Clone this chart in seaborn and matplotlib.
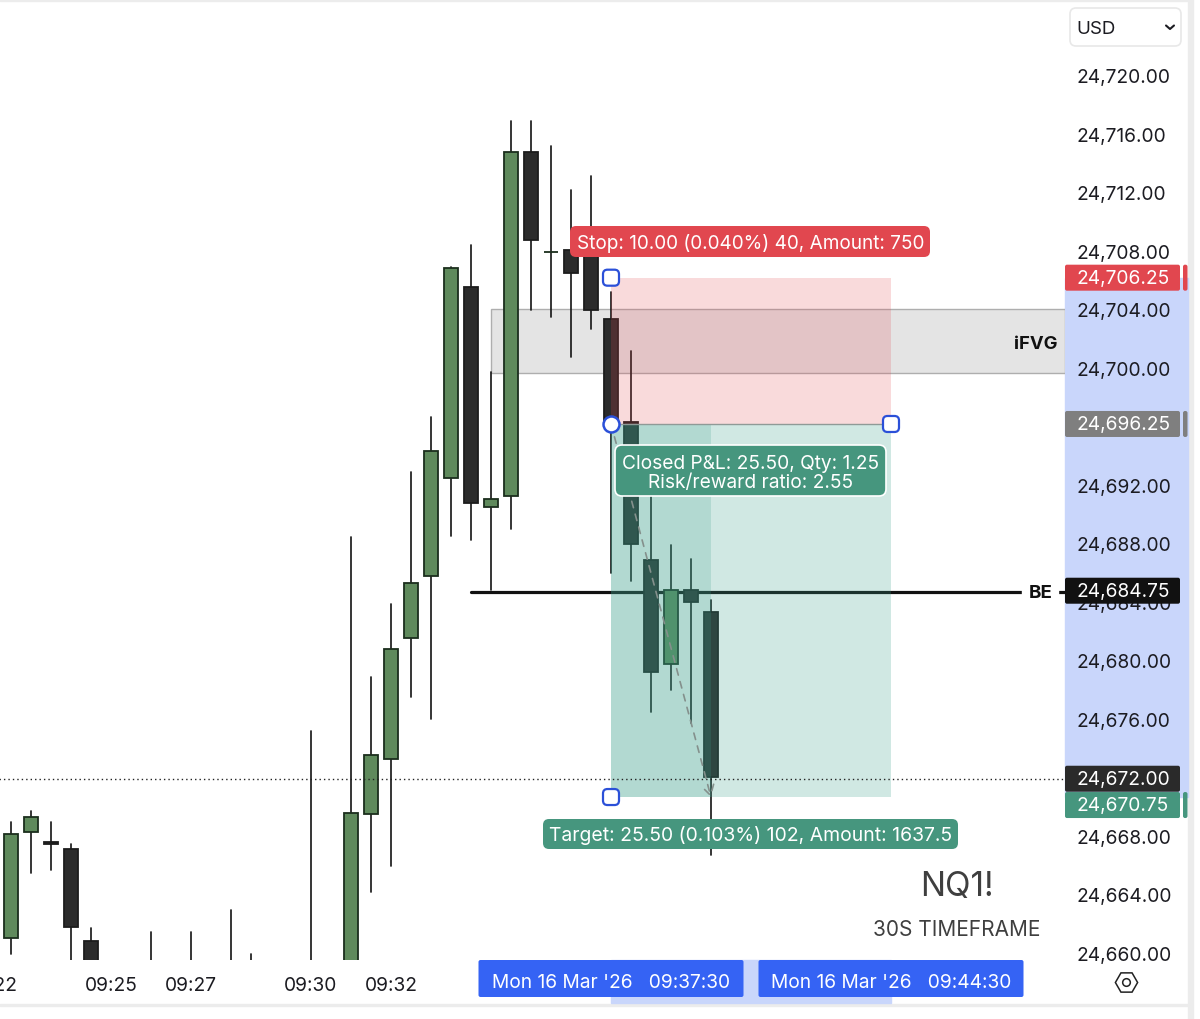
import matplotlib
matplotlib.use('Agg')
import matplotlib.pyplot as plt
import matplotlib.transforms as mtransforms
from matplotlib.patches import FancyBboxPatch, Rectangle
import pandas as pd
import seaborn as sns

# minutes after 09:00, one bar every 30s
bar_times = [22.5, 23.0, 23.5, 24.0, 24.5, 26.0, 27.0, 28.0, 28.5, 30.0, 31.0, 31.5, 32.0,
             32.5, 33.0, 33.5, 34.0, 34.5, 35.0, 35.5, 36.0, 36.5, 37.0, 37.5, 38.0, 38.5,
             39.0, 39.5, 40.0]
# bars below the visible range have estimated bodies and lows
opens = [24661.12, 24668.36, 24667.67, 24667.2, 24660.93, 24655.1, 24655.1, 24656.1, 24657.1, 24650.1,
         24650.1, 24669.59, 24673.35, 24681.62, 24685.86, 24692.56, 24705.61, 24690.58, 24691.33, 24714.84,
         24708.0, 24708.14, 24708.0, 24703.42, 24696.38, 24686.92, 24679.84, 24684.9, 24683.4]
highs = [24669.04, 24669.8, 24669.04, 24667.54, 24661.8, 24661.52, 24661.52, 24663.03, 24660.02, 24675.26,
         24688.52, 24678.95, 24683.94, 24692.97, 24696.73, 24706.98, 24708.48, 24699.8, 24716.96, 24716.96,
         24715.25, 24712.24, 24713.2, 24705.27, 24701.24, 24694.13, 24687.98, 24687.02, 24684.22]
lows = [24660.02, 24665.56, 24665.76, 24655.1, 24645.1, 24650.1, 24650.1, 24652.1, 24654.1, 24645.1,
        24645.1, 24664.26, 24666.04, 24677.59, 24676.08, 24688.59, 24688.32, 24684.9, 24689.07, 24704.04,
        24703.56, 24700.83, 24702.74, 24686.06, 24685.52, 24676.56, 24678.07, 24675.81, 24666.79]
closes = [24668.22, 24669.38, 24667.54, 24661.87, 24652.1, 24652.1, 24652.1, 24654.1, 24655.1, 24648.1,
          24669.66, 24673.65, 24680.87, 24685.38, 24694.4, 24706.91, 24690.85, 24691.12, 24714.84, 24708.83,
          24708.0, 24706.54, 24704.04, 24696.52, 24688.05, 24679.3, 24684.9, 24684.08, 24672.12]

# 24,696 and 24,672 sit fully under the price tags, so they are left out
price_ticks = [24720, 24716, 24712, 24708, 24704, 24700, 24692, 24688, 24684, 24680,
               24676, 24668, 24664, 24660]
time_ticks = [22, 25, 27, 30, 32]

stop_price = 24706.25
entry_price = 24696.25
target_price = 24670.75
be_price = 24684.75
last_price = 24672.0
ifvg_top = 24704.1
ifvg_bottom = 24699.75
ifvg_start = 34.5
be_start = 34.0
entry_time = 37.5
closed_time = 40.0
end_time = 44.5

stop_text = 'Stop: 10.00 (0.040%) 40, Amount: 750'
closed_text = 'Closed P&L: 25.50, Qty: 1.25\nRisk/reward ratio: 2.55'
target_text = 'Target: 25.50 (0.103%) 102, Amount: 1637.5'
entry_stamp = "Mon 16 Mar '26   09:37:30"
end_stamp = "Mon 16 Mar '26   09:44:30"

GREEN = '#5f8a5c'
BLACK = '#2b2b2b'
EDGE_G = '#1b2e1d'
EDGE_B = '#1c1c1c'
TEAL = '#46967e'
TINT = '#3b9f8a'
RED = '#e1474f'
BLUE = '#3563f4'
PALE_BLUE = '#c9d6fb'
HANDLE = '#2b50d8'
INK = '#1c1c22'
FONT = 13.8

XLIM = (21.225, 48.85)
YLIM = (24659.61, 24725.30)

sns.set_theme(style='white')
plt.rcParams['font.family'] = ['Inter', 'DejaVu Sans']

fig = plt.figure(figsize=(12, 10.2), dpi=100, facecolor='white')
# axes start left of the figure so the 09:22 tick exists and its label gets cut by the edge
ax = fig.add_axes([-40 / 1200, 59 / 1020, 1105 / 1200, 961 / 1020], facecolor='white')
pix = mtransforms.Affine2D().scale(1, -1).translate(0, 1020)  # screen pixels, y down

candles = pd.DataFrame({'t': bar_times, 'o': opens, 'h': highs, 'l': lows, 'c': closes})
wicks = candles.melt(id_vars='t', value_vars=['h', 'l'], value_name='price')
sns.lineplot(data=wicks, x='t', y='price', units='t', estimator=None, color=EDGE_B,
             linewidth=1.25, legend=False, zorder=2, ax=ax)

up = candles['c'] >= candles['o']
for mask, fc, ec in [(up, GREEN, EDGE_G), (~up, BLACK, EDGE_B)]:
    part = candles[mask]
    ax.bar(part['t'], (part['c'] - part['o']).abs(), bottom=part[['o', 'c']].min(axis=1),
           width=0.35, color=fc, edgecolor=ec, linewidth=1.3, zorder=3)

be_line = pd.DataFrame({'t': [be_start, XLIM[1]], 'price': [be_price, be_price]})
sns.lineplot(data=be_line, x='t', y='price', color='#111111', linewidth=2.3, zorder=1.8, ax=ax)
ax.set_xlabel('')
ax.set_ylabel('')

ax.yaxis.tick_right()
ax.set_yticks(price_ticks, [f'{p:,.2f}' for p in price_ticks])
ax.set_xticks(time_ticks, [f'09:{m:02d}' for m in time_ticks])
ax.set_xlim(*XLIM)
ax.set_ylim(*YLIM)
ax.tick_params(axis='y', length=0, pad=8, labelsize=FONT, labelcolor=INK)
ax.tick_params(axis='x', length=0, pad=11.6, labelsize=FONT, labelcolor=INK)
for t in ax.get_yticklabels():
    t.set_transform(t.get_transform() + mtransforms.Affine2D().translate(0, 1.5))
sns.despine(ax=ax, left=True, right=True, top=True, bottom=True)


def price_y(p):
    return 1020 - ax.transData.transform((XLIM[0], p))[1]


def time_x(t):
    return ax.transData.transform((t, YLIM[0]))[0]


def tag(x0, x1, y0, y1, color, r=4, edge='none', lw=0, z=9):
    ax.add_patch(FancyBboxPatch((x0 + r, y0 + r), x1 - x0 - 2 * r, y1 - y0 - 2 * r,
                                boxstyle=f'round,pad={r},rounding_size={r}', transform=pix,
                                facecolor=color, edgecolor=edge, linewidth=lw, clip_on=False, zorder=z))


def label(x, y, s, color='white', size=FONT, ha='center', weight='normal', z=10, **kws):
    # va center sits a little high for this font
    ax.text(x, y + 1.5, s, color=color, fontsize=size, ha=ha, va='center', fontweight=weight,
            transform=pix, clip_on=False, zorder=z, **kws)


# window chrome
ax.add_patch(Rectangle((1188, 0), 5, 1020, transform=pix, color='#ececec', clip_on=False, zorder=0.4))
ax.add_patch(Rectangle((0, 0), 1188, 2, transform=pix, color='#ececec', clip_on=False, zorder=0.4))
ax.add_patch(Rectangle((0, 1004.5), 1188, 2, transform=pix, color='#ececec', clip_on=False, zorder=0.4))

# selected range on both axes
axis_band = mtransforms.blended_transform_factory(pix, ax.transData)
ax.add_patch(Rectangle((1065, target_price), 123, stop_price - target_price, transform=axis_band,
                       color=PALE_BLUE, clip_on=False, zorder=0.5))
time_band = mtransforms.blended_transform_factory(ax.transData, pix)
ax.add_patch(Rectangle((entry_time, 961), end_time - entry_time, 43, transform=time_band,
                       color=PALE_BLUE, clip_on=False, zorder=0.5))

# iFVG zone
ax.add_patch(Rectangle((ifvg_start, ifvg_bottom), XLIM[1] - ifvg_start, ifvg_top - ifvg_bottom,
                       facecolor='#e4e4e4', edgecolor='#aeaeae', linewidth=1, zorder=0.8))

# position boxes, above the candles so these tint through
ax.add_patch(Rectangle((entry_time, entry_price), end_time - entry_time, stop_price - entry_price,
                       facecolor=RED, alpha=0.2, linewidth=0, zorder=4))
ax.add_patch(Rectangle((entry_time, target_price), end_time - entry_time, entry_price - target_price,
                       facecolor=TINT, alpha=0.24, linewidth=0, zorder=4))
ax.add_patch(Rectangle((entry_time, target_price), closed_time - entry_time, entry_price - target_price,
                       facecolor=TINT, alpha=0.2, linewidth=0, zorder=4))
ax.plot([entry_time, end_time], [entry_price, entry_price], color='#8f9a97', linewidth=1, zorder=4.5)

# trade path
ax.annotate('', xy=(closed_time, target_price), xytext=(entry_time, entry_price),
            arrowprops=dict(arrowstyle='->,head_length=0.6,head_width=0.35', color='#84908c', linewidth=1.2,
                            linestyle=(0, (4, 4)), shrinkA=0, shrinkB=0), zorder=5)

# crosshair
ax.plot(list(XLIM), [last_price, last_price], color='#222222', linewidth=1, linestyle=(0, (1, 2.2)), zorder=5)

# drag handles
ex, sx = time_x(entry_time), time_x(end_time)
for hx, hy in [(ex, price_y(stop_price)), (sx, price_y(entry_price)), (ex, price_y(target_price))]:
    tag(hx - 8, hx + 8, hy - 8, hy + 8, 'white', r=4.5, edge=HANDLE, lw=1.6, z=8)
ax.plot([ex], [price_y(entry_price)], marker='o', markersize=11.5, markerfacecolor='white',
        markeredgecolor=HANDLE, markeredgewidth=1.8, transform=pix, clip_on=False, zorder=8)

# position labels
mid = (ex + sx) / 2
tag(570, 930, 227, 258, RED, r=6)
label(mid, 242, stop_text, size=13.65)
tag(615, 886, 446, 497, TEAL, r=7, edge='white', lw=1.2)
label(mid, 472, closed_text, linespacing=1.05)
tag(543, 958, 820, 850, TEAL, r=6)
label(mid, 834, target_text, size=13.95)

# price axis tags, the target one stacks under the last price one
for p, fc, side, shift, z in [(stop_price, RED, True, 0, 9), (entry_price, '#7f7f7f', True, 0, 9),
                              (be_price, '#111111', False, -1.5, 9), (last_price, '#2a2a2a', False, 0, 9),
                              (target_price, TEAL, True, 8, 9.2)]:
    yc = price_y(p) + shift
    tag(1065, 1180, yc - 13, yc + 13, fc, r=2, z=z)
    if side:
        tag(1183, 1187.5, yc - 13, yc + 13, fc, r=2, z=z)
    label(1076.5, yc - 1.5, f'{p:,.2f}', ha='left', z=z + 1)

# drawing names
label(1035.5, 343, 'iFVG', color='#111111', weight='bold', size=13.3)
ax.add_patch(Rectangle((1022, price_y(be_price) - 8), 36, 16, transform=pix, color='white', zorder=4.7, clip_on=False))
label(1040.5, 592, 'BE', color='#111111', weight='bold', size=13.5)
label(957, 886, 'NQ1!', color='#3f3f3f', size=24)
label(957, 929, '30S TIMEFRAME', color='#3f3f3f', size=15)

# time stamps
for t, stamp in [(entry_time, entry_stamp), (end_time, end_stamp)]:
    tx = time_x(t)
    tag(tx - 132.5, tx + 132.5, 961, 998, BLUE, r=2)
    label(tx, 982, stamp)

# currency selector and settings icon
tag(1070, 1181, 9, 47, 'white', r=6, edge='#e8e8e8', lw=1.2)
label(1076, 28, 'USD', color=INK, ha='left', size=13.5)
ax.plot([1166, 1170, 1174], [26.5, 30, 26.5], color=INK, linewidth=1.5, transform=pix, clip_on=False, zorder=10)
ax.plot([1126], [983], marker='H', markersize=16, markerfacecolor='white', markeredgecolor='#222222',
        markeredgewidth=1.1, transform=pix, clip_on=False, zorder=10)
ax.plot([1126], [983], marker='o', markersize=5.5, markerfacecolor='white', markeredgecolor='#222222',
        markeredgewidth=1.1, transform=pix, clip_on=False, zorder=10)

ax.set_xlim(*XLIM)
ax.set_ylim(*YLIM)
fig.savefig('out.png', dpi=100, facecolor='white')
